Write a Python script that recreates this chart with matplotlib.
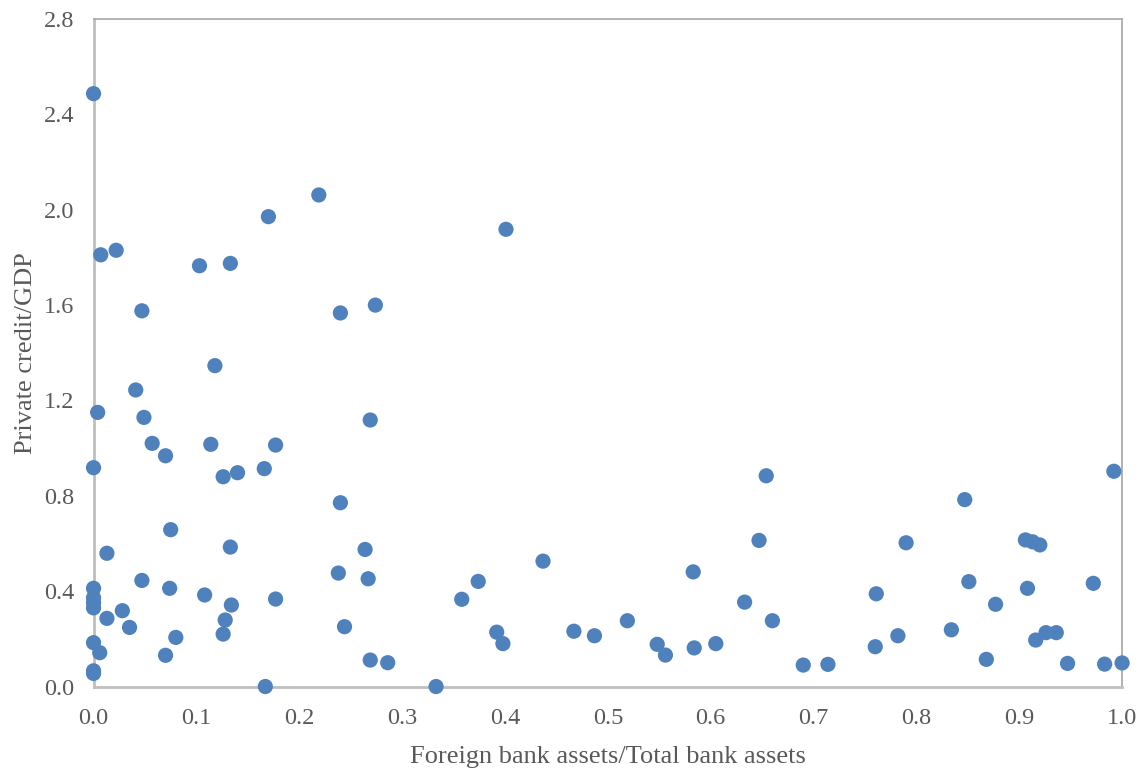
import matplotlib.pyplot as plt
import numpy as np

plt.rcParams['font.family'] = ['Liberation Serif', 'DejaVu Serif']

# foreign bank share vs private credit
foreign_share = [
    0.000, 0.007, 0.022, 0.047, 0.103, 0.133, 0.170, 0.219, 0.240, 0.274,
    0.401, 0.118, 0.041, 0.004, 0.049, 0.269, 0.057, 0.114, 0.177, 0.070,
    0.000, 0.166, 0.140, 0.126, 0.654, 0.992, 0.240, 0.847, 0.075, 0.133,
    0.264, 0.013, 0.437, 0.790, 0.647, 0.906, 0.913, 0.920, 0.238, 0.267,
    0.583, 0.047, 0.374, 0.851, 0.972, 0.000, 0.074, 0.908, 0.761, 0.108,
    0.000, 0.000, 0.000, 0.177, 0.358, 0.134, 0.877, 0.633, 0.028, 0.013,
    0.128, 0.519, 0.660, 0.244, 0.035, 0.834, 0.080, 0.126, 0.392, 0.467,
    0.487, 0.782, 0.926, 0.936, 0.000, 0.398, 0.605, 0.548, 0.916, 0.584,
    0.760, 0.006, 0.556, 0.070, 0.868, 0.269, 0.286, 0.947, 1.000, 0.983,
    0.714, 0.690, 0.000, 0.000, 0.167, 0.333,
]
private_credit = [
    2.487, 1.811, 1.830, 1.576, 1.765, 1.775, 1.971, 2.062, 1.567, 1.600,
    1.918, 1.346, 1.244, 1.150, 1.129, 1.118, 1.020, 1.016, 1.013, 0.968,
    0.918, 0.914, 0.897, 0.880, 0.884, 0.903, 0.771, 0.784, 0.658, 0.585,
    0.575, 0.559, 0.526, 0.603, 0.613, 0.615, 0.607, 0.594, 0.476, 0.452,
    0.481, 0.445, 0.441, 0.440, 0.433, 0.412, 0.412, 0.412, 0.389, 0.384,
    0.372, 0.352, 0.330, 0.367, 0.366, 0.342, 0.345, 0.354, 0.318, 0.286,
    0.279, 0.276, 0.276, 0.251, 0.248, 0.238, 0.206, 0.220, 0.228, 0.232,
    0.213, 0.213, 0.226, 0.226, 0.184, 0.180, 0.180, 0.177, 0.195, 0.162,
    0.167, 0.142, 0.132, 0.131, 0.114, 0.111, 0.100, 0.097, 0.099, 0.094,
    0.093, 0.090, 0.066, 0.055, 0.000, 0.000,
]

x_ticks = np.arange(0, 1.01, 0.1)
y_ticks = np.arange(0, 2.81, 0.4)

fig = plt.figure(figsize=(11.45, 7.7), dpi=100)
ax = fig.add_axes([0.0817, 0.1084, 0.8983, 0.8669])

ax.scatter(foreign_share, private_credit, s=120, color='#4F81BD',
           edgecolors='none', clip_on=False, zorder=3)

ax.set_xlim(0, 1.0)
ax.set_ylim(0, 2.8)
ax.set_xticks(x_ticks)
ax.set_yticks(y_ticks)
ax.set_xticklabels(['%.1f' % v for v in x_ticks])
ax.set_yticklabels(['%.1f' % v for v in y_ticks])
ax.tick_params(length=0, labelsize=17.5, labelcolor='#595959')
ax.tick_params(axis='x', pad=15.5)
ax.tick_params(axis='y', pad=14)

for side in ['left', 'bottom']:
    ax.spines[side].set_color('#BFBFBF')
    ax.spines[side].set_linewidth(2)
for side in ['top', 'right']:
    ax.spines[side].set_color('#A6A6A6')
    ax.spines[side].set_linewidth(1.2)

ax.set_xlabel('Foreign bank assets/Total bank assets', fontsize=19,
              color='#595959', labelpad=12)
ax.set_ylabel('Private credit/GDP', fontsize=19, color='#595959',
              labelpad=4.5)

fig.savefig('out.png', dpi=100)
